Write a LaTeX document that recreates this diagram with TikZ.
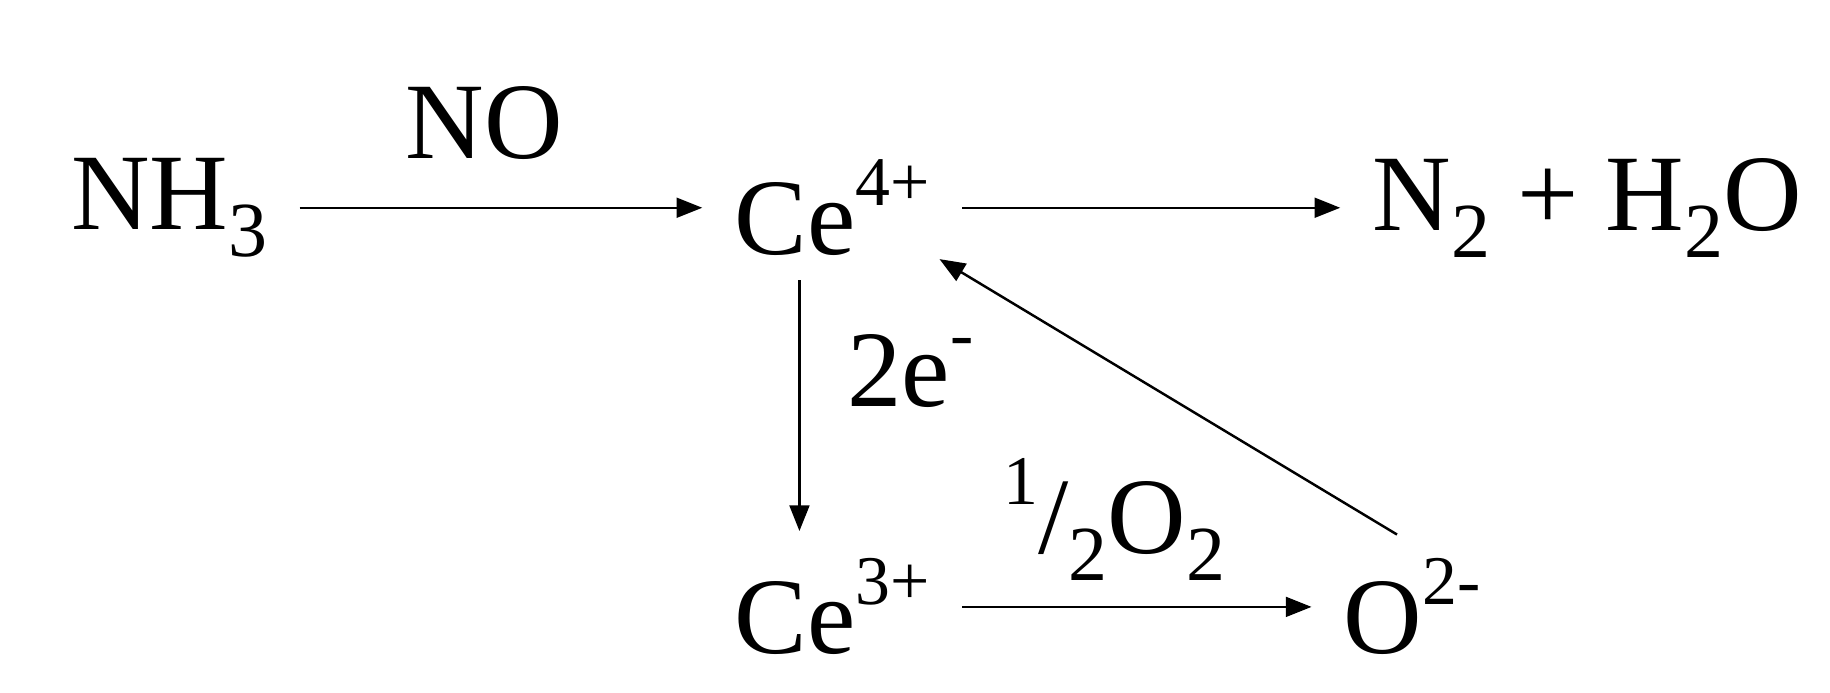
\documentclass[tikz,border=0pt]{standalone}
\usepackage{fontspec}
\setmainfont{Liberation Serif}
\usetikzlibrary{arrows.meta}
\tikzset{
  chem/.style={font=\fontsize{26.5}{30}\selectfont, inner xsep=0.27cm, inner ysep=0.3cm},
  lbl/.style={font=\fontsize{26.5}{30}\selectfont, inner sep=0pt},
  arr/.style={line width=0.6pt, -{Triangle[length=0.22cm,width=0.17cm]}}
}
\newcommand{\sub}[1]{\raisebox{-0.25em}{\fontsize{19}{20}\selectfont #1}}
\newcommand{\spr}[1]{\raisebox{0.45em}{\fontsize{17}{20}\selectfont #1}}
\begin{document}
\begin{tikzpicture}[x=0.01cm,y=-0.01cm]
\useasboundingbox (0,0) rectangle (1568,593);
\node[chem] (nh3) at (145,178) {NH\sub{3}};
\node[chem] (ce4) at (713,178) {Ce\spr{4+}};
\node[chem] (prod) at (1360,178) {N\sub{2} + H\sub{2}O};
\node[chem] (ce3) at (713,520) {Ce\spr{3+}};
\node[chem] (o2m) at (1210,520) {O\spr{2-}};
\node[lbl] (no) at (415,105) {NO};
\node[lbl] (e2) at (780,318) {2e\spr{-}};
\node[lbl] (half) at (955,445) {\spr{1}/\sub{2}O\sub{2}};
\draw[arr] (nh3.east) -- (ce4.west |- nh3.east);
\draw[arr] (ce4.east) -- (prod.west |- ce4.east);
\draw[arr] (685,240) coordinate (a1) -- (685,455) coordinate (a2);
\draw[arr] (ce3.east) -- (o2m.west |- ce3.east);
\draw[arr] (1197,458) coordinate (d1) -- (805,222) coordinate (d2);
\end{tikzpicture}
\end{document}
